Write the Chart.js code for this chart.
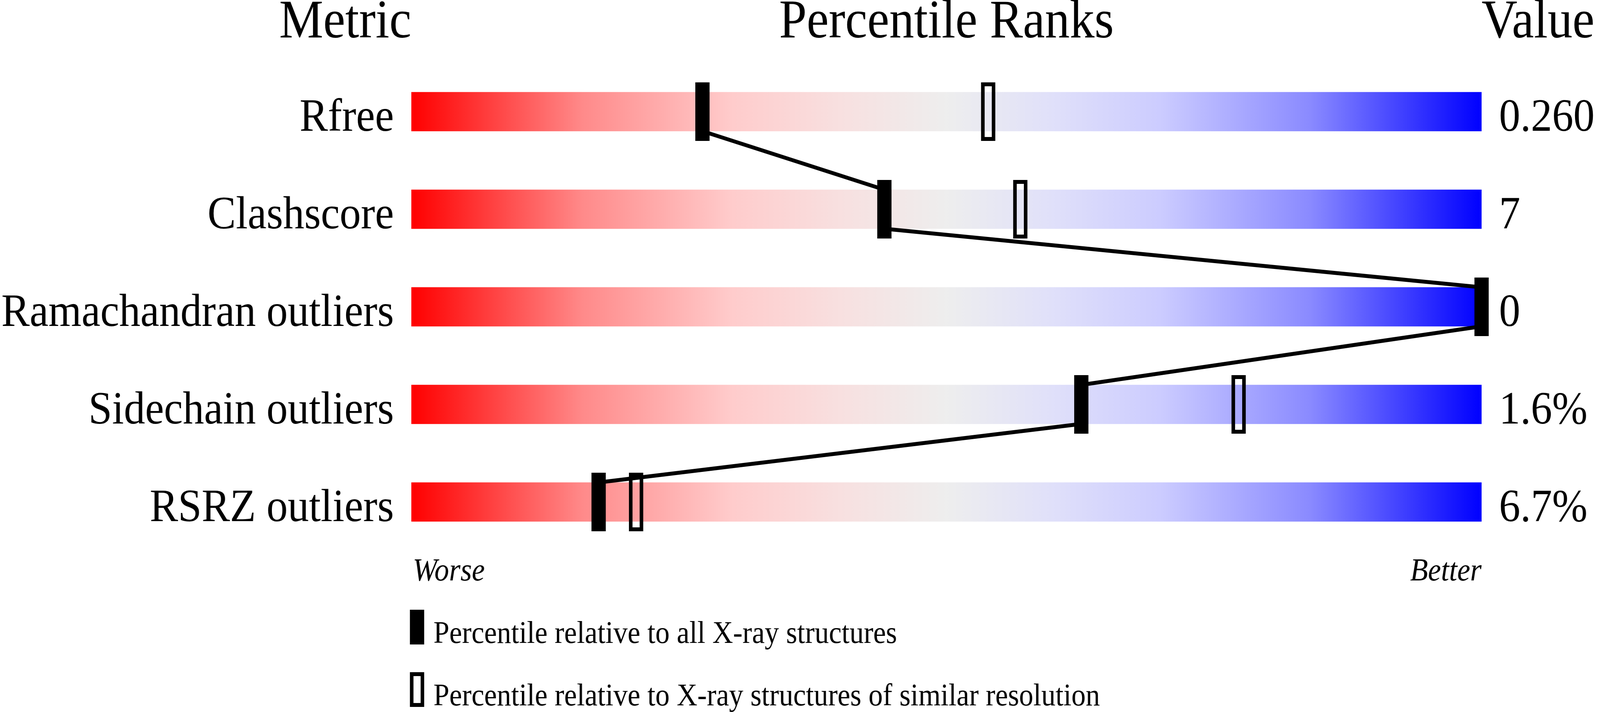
<!DOCTYPE html>
<html>
<head>
<meta charset="utf-8">
<title>Percentile Ranks</title>
<script src="https://cdn.jsdelivr.net/npm/chart.js@4/dist/chart.umd.min.js"></script>
<style>
  html, body { margin: 0; padding: 0; background: #fff; overflow: hidden; }
  canvas { display: block; }
</style>
</head>
<body>
<canvas id="chartRanks" width="4485" height="1824" style="width:100vw;height:100vh"></canvas>
<script>
// Data
const metrics = ['Rfree', 'Clashscore', 'Ramachandran outliers', 'Sidechain outliers', 'RSRZ outliers'];
const metricValues = ['0.260', '7', '0', '1.6%', '6.7%'];
const pctAllXray = [27.2, 44.2, 100, 62.6, 17.5];      // filled markers
const pctSimilarRes = [53.9, 56.9, 100, 77.3, 21.0];   // open markers
const headers = ['Metric', 'Percentile Ranks', 'Value'];
const scaleEnds = ['Worse', 'Better'];
const legendLabels = [
  'Percentile relative to all X-ray structures',
  'Percentile relative to X-ray structures of similar resolution'
];

const SERIF = '"Liberation Serif", "Times New Roman", serif';

// red -> grey -> blue slider
const gradientStops = [
  [0, '#ff0000'], [0.16, '#ff8a8a'], [0.30, '#ffcccc'], [0.40, '#f8e0e0'],
  [0.50, '#eeeeee'], [0.60, '#e0e0fa'], [0.70, '#ccccff'], [0.84, '#8a8aff'], [1, '#0000ff']
];

function markerImage(filled) {
  const c = document.createElement('canvas');
  c.width = 40; c.height = 150;
  const g = c.getContext('2d');
  g.fillStyle = '#000';
  g.fillRect(0, 0, 40, 150);
  if (!filled) g.clearRect(10, 10, 20, 130);
  return c;
}

// half of the bar height in row units (100px bar / 250px row pitch)
const HALF_BAR = 0.2;
const linkPath = [];
for (let i = 0; i < pctAllXray.length - 1; i++) {
  linkPath.push({ x: pctAllXray[i], y: i + HALF_BAR });
  linkPath.push({ x: pctAllXray[i + 1], y: i + 1 - HALF_BAR });
}

const pageText = {
  id: 'pageText',
  afterDraw(chart) {
    const { ctx, scales: { x, y } } = chart;
    const x0 = x.getPixelForValue(0), x100 = x.getPixelForValue(100), xMid = x.getPixelForValue(50);
    ctx.save();
    ctx.fillStyle = '#000';
    ctx.textBaseline = 'alphabetic';

    // headers
    ctx.font = `139px ${SERIF}`;
    ctx.textAlign = 'right';  ctx.fillText(headers[0], x0, 96);
    ctx.textAlign = 'center'; ctx.fillText(headers[1], xMid, 96);
    ctx.textAlign = 'left';   ctx.fillText(headers[2], x100, 96);

    // row labels + values
    ctx.font = `119px ${SERIF}`;
    metrics.forEach((m, i) => {
      const cy = y.getPixelForValue(i);
      ctx.textAlign = 'right';
      ctx.fillText(m, x0 - 49, cy + 49);
      ctx.textAlign = 'left';
      ctx.fillText(metricValues[i], x100 + 49, cy + 49);
    });

    const yLast = y.getPixelForValue(metrics.length - 1);
    ctx.font = `italic 82px ${SERIF}`;
    ctx.textAlign = 'left';  ctx.fillText(scaleEnds[0], x0 + 4, yLast + 201);
    ctx.textAlign = 'right'; ctx.fillText(scaleEnds[1], x100, yLast + 201);

    // legend
    ctx.font = `80px ${SERIF}`;
    ctx.textAlign = 'left';
    legendLabels.forEach((txt, i) => {
      const top = yLast + 276 + i * 160;
      ctx.fillStyle = '#000';
      ctx.fillRect(x0 - 4, top, 40, 89);
      if (i === 1) ctx.clearRect(x0 + 6, top + 10, 20, 69);
      ctx.fillText(txt, x0 + 62, top + 85);
    });
    ctx.restore();
  }
};

new Chart(document.getElementById('chartRanks'), {
  type: 'scatter',
  data: {
    datasets: [
      {
        type: 'scatter',
        label: legendLabels[0],
        data: pctAllXray.map((v, i) => ({ x: v, y: i })),
        pointStyle: markerImage(true),
        pointRadius: 10,
        clip: false,
        order: 0
      },
      {
        type: 'line',
        label: 'link',
        data: linkPath,
        showLine: true,
        borderColor: '#000',
        borderWidth: 10,
        borderJoinStyle: 'bevel',
        pointRadius: 0,
        tension: 0,
        fill: false,
        clip: false,
        order: 1
      },
      {
        type: 'scatter',
        label: legendLabels[1],
        data: pctSimilarRes.map((v, i) => ({ x: v, y: i })),
        pointStyle: markerImage(false),
        pointRadius: 10,
        clip: false,
        order: 2
      },
      {
        type: 'bar',
        label: 'slider',
        indexAxis: 'y',
        data: metrics.map((_, i) => ({ y: i, x: [0, 100] })),
        barThickness: 100,
        borderWidth: 0,
        backgroundColor: (c) => {
          const chart = c.chart;
          if (!chart.chartArea) return '#eeeeee';
          const xs = chart.scales.x;
          const g = chart.ctx.createLinearGradient(xs.getPixelForValue(0), 0, xs.getPixelForValue(100), 0);
          gradientStops.forEach(([p, col]) => g.addColorStop(p, col));
          return g;
        },
        order: 3
      }
    ]
  },
  options: {
    responsive: false,
    devicePixelRatio: 1,
    animation: false,
    layout: { padding: { left: 1153, right: 332, top: 161, bottom: 413 } },
    plugins: { legend: { display: false }, tooltip: { enabled: false } },
    scales: {
      x: { type: 'linear', min: 0, max: 100, offset: false, display: false },
      y: { type: 'linear', min: -0.5, max: 4.5, reverse: true, offset: false, display: false }
    }
  },
  plugins: [pageText]
});
</script>
</body>
</html>
